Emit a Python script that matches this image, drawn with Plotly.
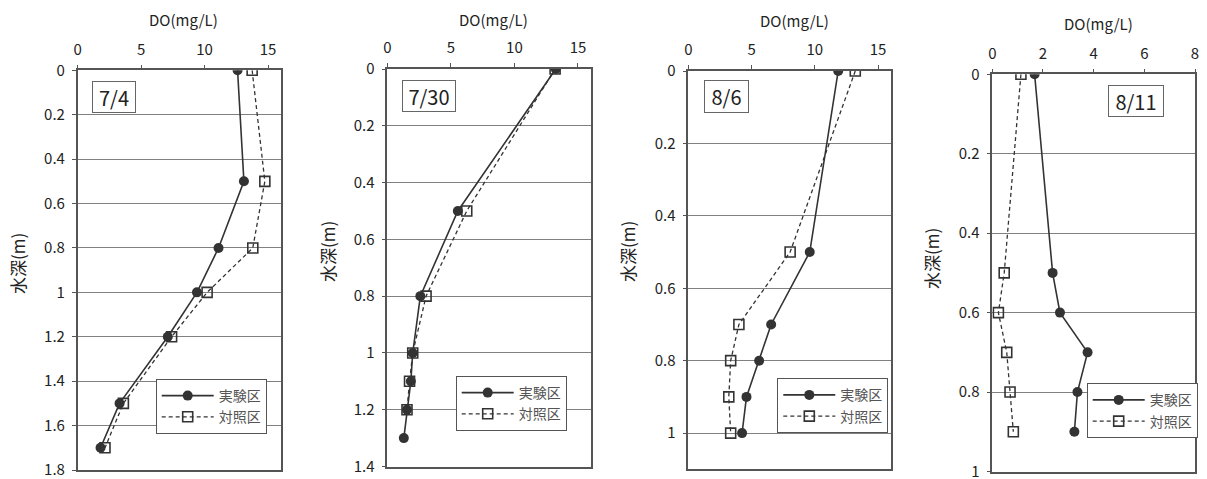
import plotly.graph_objects as go

# ---- data ----
dates = ["7/4", "7/30", "8/6", "8/11"]
series_names = ["実験区", "対照区"]

depth_74_exp = [0, 0.5, 0.8, 1.0, 1.2, 1.5, 1.7]
do_74_exp = [12.6, 13.1, 11.1, 9.4, 7.1, 3.3, 1.8]
depth_74_ctl = [0, 0.5, 0.8, 1.0, 1.2, 1.5, 1.7]
do_74_ctl = [13.75, 14.75, 13.8, 10.2, 7.4, 3.6, 2.15]

depth_730_exp = [0, 0.5, 0.8, 1.0, 1.1, 1.2, 1.3]
do_730_exp = [13.25, 5.55, 2.6, 2.0, 1.85, 1.55, 1.3]
depth_730_ctl = [0, 0.5, 0.8, 1.0, 1.1, 1.2]
do_730_ctl = [13.2, 6.25, 3.05, 2.0, 1.75, 1.55]

depth_86_exp = [0, 0.5, 0.7, 0.8, 0.9, 1.0]
do_86_exp = [11.85, 9.6, 6.55, 5.6, 4.6, 4.25]
depth_86_ctl = [0, 0.5, 0.7, 0.8, 0.9, 1.0]
do_86_ctl = [13.2, 8.05, 4.0, 3.35, 3.2, 3.35]

depth_811_exp = [0, 0.5, 0.6, 0.7, 0.8, 0.9]
do_811_exp = [1.67, 2.38, 2.67, 3.76, 3.36, 3.24]
depth_811_ctl = [0, 0.5, 0.6, 0.7, 0.8, 0.9]
do_811_ctl = [1.13, 0.47, 0.24, 0.57, 0.70, 0.83]

x_titles = "DO(mg/L)"
y_title = "水深(m)"
x_ranges = [[0, 16], [0, 16], [0, 16], [0, 8]]
x_dticks = [5, 5, 5, 2]
y_ranges = [[1.8, 0], [1.4, 0], [1.1, 0], [1.0, 0]]

panels = [
    (depth_74_exp, do_74_exp, depth_74_ctl, do_74_ctl),
    (depth_730_exp, do_730_exp, depth_730_ctl, do_730_ctl),
    (depth_86_exp, do_86_exp, depth_86_ctl, do_86_ctl),
    (depth_811_exp, do_811_exp, depth_811_ctl, do_811_ctl),
]

# ---- layout geometry (pixels) ----
W, H = 1207, 479
plot_px = [  # x0, x1, ytop, ybottom
    (77.7, 280.7, 70.3, 470.0),
    (387.3, 590.7, 69.0, 466.5),
    (688.3, 890.7, 71.0, 469.3),
    (992.3, 1195.0, 74.3, 471.5),
]
label_px = [(113.7, 97), (428.7, 96), (726.7, 96.7), (1136.3, 101.5)]
label_size = [(42, 30), (52, 30), (43, 31), (54, 30)]
legend_px = [(155.7, 379), (455.7, 376), (777.3, 378.3), (1086.7, 383.3)]
xtitle_px = [(183.8, 19), (493.3, 19), (794.7, 20.7), (1098, 23.3)]
ytitle_px = [(17, 264), (327, 252), (627, 252), (931, 259)]

FONT = "Noto Sans CJK JP, Liberation Sans, sans-serif"
TXT = "#222222"
LINE = "#333333"

fig = go.Figure()
layout = dict(
    width=W, height=H,
    margin=dict(l=0, r=0, t=0, b=0, pad=0, autoexpand=False),
    paper_bgcolor="white", plot_bgcolor="white",
    font=dict(family=FONT, color=TXT, size=14),
    annotations=[],
)

for i, (de, ve, dc, vc) in enumerate(panels):
    n = "" if i == 0 else str(i + 1)
    xa, ya = "x" + n, "y" + n
    leg = "legend" + n
    fig.add_trace(go.Scatter(
        x=ve, y=de, xaxis=xa, yaxis=ya, name=series_names[0], legend=leg,
        mode="lines+markers",
        line=dict(color=LINE, width=1.6),
        marker=dict(symbol="circle", size=10, color=LINE),
    ))
    fig.add_trace(go.Scatter(
        x=vc, y=dc, xaxis=xa, yaxis=ya, name=series_names[1], legend=leg,
        mode="lines+markers",
        line=dict(color=LINE, width=1.3, dash="4px,3px"),
        marker=dict(symbol="square-open", size=10, color=LINE, line=dict(width=1.6)),
    ))
    x0, x1, yt, yb = plot_px[i]
    layout["xaxis" + n] = dict(
        domain=[x0 / W, x1 / W], range=x_ranges[i], dtick=x_dticks[i], tick0=0,
        side="top", anchor=ya, showgrid=False, zeroline=False, automargin=False,
        showline=True, mirror=True, linecolor="#555555", linewidth=1.5,
        ticks="outside", ticklen=4, tickcolor="#555555", ticklabelstandoff=4,
        ticklabeloverflow="allow",
        tickfont=dict(size=15, color=TXT),
    )
    layout["yaxis" + n] = dict(
        domain=[1 - yb / H, 1 - yt / H], range=y_ranges[i], dtick=0.2, tick0=0,
        anchor=xa, showgrid=True, gridcolor="#808080", gridwidth=1, zeroline=False,
        automargin=False,
        showline=True, mirror=True, linecolor="#555555", linewidth=1.5,
        ticks="outside", ticklen=4, tickcolor="#555555", ticklabelstandoff=4,
        ticklabeloverflow="allow",
        tickfont=dict(size=15, color=TXT),
    )
    lx, ly = legend_px[i]
    layout[leg] = dict(
        x=lx / W, y=1 - ly / H, xanchor="left", yanchor="top",
        xref="paper", yref="paper", itemwidth=52,
        bgcolor="white", bordercolor="#555555", borderwidth=1,
        font=dict(size=14, color="#555555"), tracegroupgap=0,
    )
    cx, cy = label_px[i]
    bw, bh = label_size[i]
    layout["annotations"].append(dict(
        x=cx / W, y=1 - cy / H, xref="paper", yref="paper", text=dates[i],
        xanchor="center", yanchor="middle", width=bw, height=bh,
        showarrow=False, font=dict(size=20, color=TXT),
        bordercolor="#666666", borderwidth=1, borderpad=0, bgcolor="white",
    ))
    tx, ty = xtitle_px[i]
    layout["annotations"].append(dict(
        x=tx / W, y=1 - ty / H, xref="paper", yref="paper", text=x_titles,
        xanchor="center", yanchor="middle",
        showarrow=False, font=dict(size=15, color=TXT),
    ))
    yx, yy = ytitle_px[i]
    layout["annotations"].append(dict(
        x=yx / W, y=1 - yy / H, xref="paper", yref="paper", text=y_title,
        xanchor="center", yanchor="middle",
        showarrow=False, textangle=-90, font=dict(size=17, color=TXT),
    ))

fig.update_layout(**layout)
fig.write_html(
    "out.html",
    config={"displayModeBar": False},
    post_script="document.body.style.margin='0px';document.body.style.overflow='hidden';",
)
